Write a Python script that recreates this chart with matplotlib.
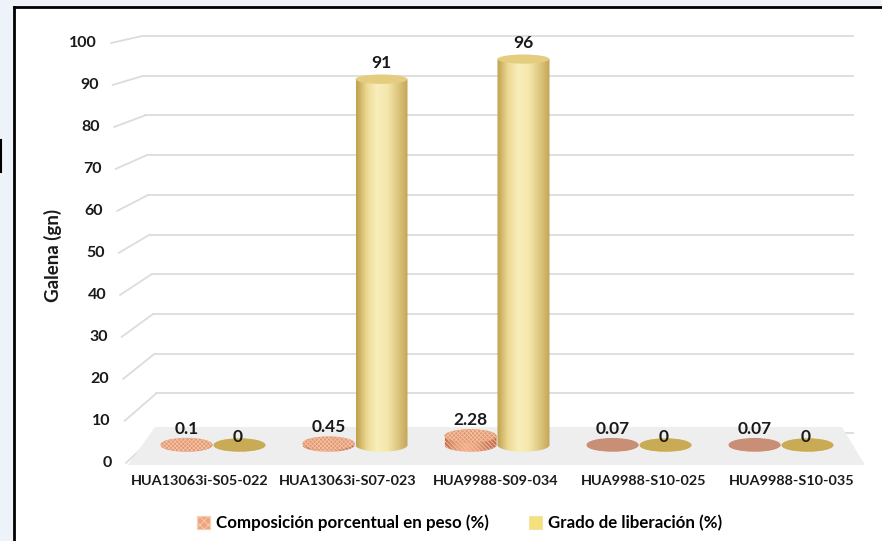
import numpy as np
import matplotlib.pyplot as plt
from matplotlib.patches import Polygon, Ellipse, Rectangle, Patch
from matplotlib.lines import Line2D
from matplotlib.colors import LinearSegmentedColormap

plt.rcParams['font.family'] = ['Lato', 'DejaVu Sans']
plt.rcParams['hatch.linewidth'] = 0.6

samples = ["HUA13063i-S05-022", "HUA13063i-S07-023", "HUA9988-S09-034",
           "HUA9988-S10-025", "HUA9988-S10-035"]
composicion = [0.1, 0.45, 2.28, 0.07, 0.07]
liberacion = [0, 91, 96, 0, 0]
series_names = ["Composición porcentual en peso (%)", "Grado de liberación (%)"]
y_ticks = list(range(0, 101, 10))

# scene scale: one category step = 142 px, one value unit = 4.02 px
W, H = 882, 541
CAT_PX = 142.0
UNIT_PX = 4.02
X0_PX, Y0_PX = 213.0, 445.0
TXT = '#1a1a1a'

fig = plt.figure(figsize=(W / 100, H / 100), dpi=100)
ax = fig.add_axes([0, 0, 1, 1])
ax.axis('off')


def px_to_x(px):
    return (px - X0_PX) / CAT_PX


def px_to_y(py):
    return (Y0_PX - py) / UNIT_PX


# back wall and front label planes (perspective)
def back_y(v):
    return px_to_y(433 - 3.97 * v)


def back_x0(v):
    return px_to_x(158 - 0.16 * v)


def front_y(v):
    return px_to_y(463 - 4.2 * v)


def front_x(v):
    return px_to_x(112 - 0.15 * v)


def label_x(i):
    # category labels sit on the front edge, spread a bit wider
    return px_to_x(200 + 148 * i)


back_x1 = px_to_x(853)

for v in y_ticks:
    ax.plot([front_x(v) + 14 / CAT_PX, back_x0(v)], [front_y(v), back_y(v)],
            color='#dcdcdc', lw=1.3, zorder=1, solid_capstyle='round')
    ax.plot([back_x0(v), back_x1], [back_y(v), back_y(v)],
            color='#dcdcdc', lw=1.3, zorder=1)
    ax.text(front_x(v), front_y(v), str(v), ha='right', va='center',
            fontsize=11.5, fontweight='bold', color=TXT)

# floor
floor = Polygon([(px_to_x(155), px_to_y(427)), (px_to_x(842), px_to_y(427)),
                 (px_to_x(865), px_to_y(465)), (px_to_x(128), px_to_y(465))],
                closed=True, facecolor='#eeeeee', edgecolor='none', zorder=2)
ax.add_patch(floor)

yellow_cmap = LinearSegmentedColormap.from_list(
    'yl', ['#c0a04e', '#ecd992', '#f8edbb', '#f5e8ad', '#e0c982', '#c4a657'])
orange_cmap = LinearSegmentedColormap.from_list(
    'or', ['#c06e4c', '#e59a72', '#f2b08a', '#eba07a', '#cf8060', '#bf6d4c'])

WIDTH = 52 / CAT_PX
OFFSET = 53 / CAT_PX


def ell_h(v):
    return (13.5 - 0.045 * v) / UNIT_PX


def cylinder(xc, v, cmap, top_color, hatch_color=None, z=3):
    half = WIDTH / 2
    eb = ell_h(0)
    et = ell_h(v)
    th = np.linspace(np.pi, 2 * np.pi, 80)
    bx = xc + half * np.cos(th)
    by = eb / 2 * np.sin(th)
    verts = [(xc - half, v)] + list(zip(bx, by)) + [(xc + half, v)]
    body = Polygon(verts, closed=True, facecolor='none', edgecolor='none', zorder=z)
    ax.add_patch(body)
    grad = cmap(np.linspace(0, 1, 64))[None, :, :3]
    im = ax.imshow(grad, extent=[xc - half, xc + half, -eb / 2, v + et / 2],
                   aspect='auto', interpolation='bilinear', zorder=z)
    im.set_clip_path(body)
    if hatch_color is not None:
        ax.add_patch(Polygon(verts, closed=True, facecolor='none',
                             edgecolor=hatch_color, lw=0, hatch='\\\\\\\\\\\\\\\\', zorder=z))
    ax.add_patch(Ellipse((xc, v), WIDTH, et, facecolor=top_color,
                         edgecolor='none', zorder=z + 0.1))
    if hatch_color is not None:
        ax.add_patch(Ellipse((xc, v), WIDTH, et, facecolor='none', lw=0,
                             edgecolor=hatch_color, hatch='xxxxxxxx', zorder=z + 0.2))


for i, name in enumerate(samples):
    c = composicion[i]
    g = liberacion[i]
    xo = i - OFFSET / 2
    xy = i + OFFSET / 2
    cylinder(xo, c, orange_cmap, '#e3966e' if c >= 0.1 else '#c98f76',
             hatch_color='#f3c3a6' if c >= 0.1 else None, z=3 + i)
    cylinder(xy, g, yellow_cmap, '#e4cd7e' if g > 0 else '#c9ab55', z=3.5 + i)
    ax.text(xo, c + (4.0 if c > 0 else 2.0), f"{c:g}", ha='center', va='center',
            fontsize=12.5, fontweight='bold', color=TXT, zorder=20)
    ax.text(xy - (0 if g > 0 else 1.5 / CAT_PX), g + (4.0 if g > 0 else 2.0), f"{g:g}",
            ha='center', va='center', fontsize=12.5, fontweight='bold',
            color=TXT, zorder=20)
    ax.text(label_x(i), px_to_y(481), name, ha='center', va='center',
            fontsize=10.4, fontweight='bold', color=TXT)

ax.text(px_to_x(53), px_to_y(255), "Galena (gn)", rotation=90, ha='center',
        va='center', fontsize=13.5, fontweight='bold', color=TXT)

ax.set_xlim(px_to_x(0), px_to_x(W))
ax.set_ylim(px_to_y(H), px_to_y(0))

handles = [Patch(facecolor='#eea57f', edgecolor='#f7cdb2', hatch='xxxx', lw=0.8),
           Patch(facecolor='#f6e07c', edgecolor='#f2e4a8', lw=0.8)]
fig.legend(handles, series_names, loc='center', bbox_to_anchor=(0.521, 1 - 523 / H),
           ncol=2, frameon=False, handlelength=0.75, handleheight=0.75,
           columnspacing=2.4, handletextpad=0.35,
           prop=dict(weight='bold', size=12.2))

# outer frame
fig.patches.append(Rectangle((0, 0), 13 / W, 1, transform=fig.transFigure,
                             facecolor='#eef3f9', edgecolor='none', zorder=-5))
fig.patches.append(Rectangle((0, 1 - 6 / H), 1, 6 / H, transform=fig.transFigure,
                             facecolor='#eef3f9', edgecolor='none', zorder=-5))
fig.lines.append(Line2D([13.5 / W, 13.5 / W], [0, 1 - 6.5 / H],
                        transform=fig.transFigure, color='black', lw=2))
fig.lines.append(Line2D([13.5 / W, 1], [1 - 6.5 / H, 1 - 6.5 / H],
                        transform=fig.transFigure, color='black', lw=2))
fig.lines.append(Line2D([0.5 / W, 0.5 / W], [1 - 140 / H, 1 - 172 / H],
                        transform=fig.transFigure, color='black', lw=1.5))

fig.savefig('out.png', dpi=100)
